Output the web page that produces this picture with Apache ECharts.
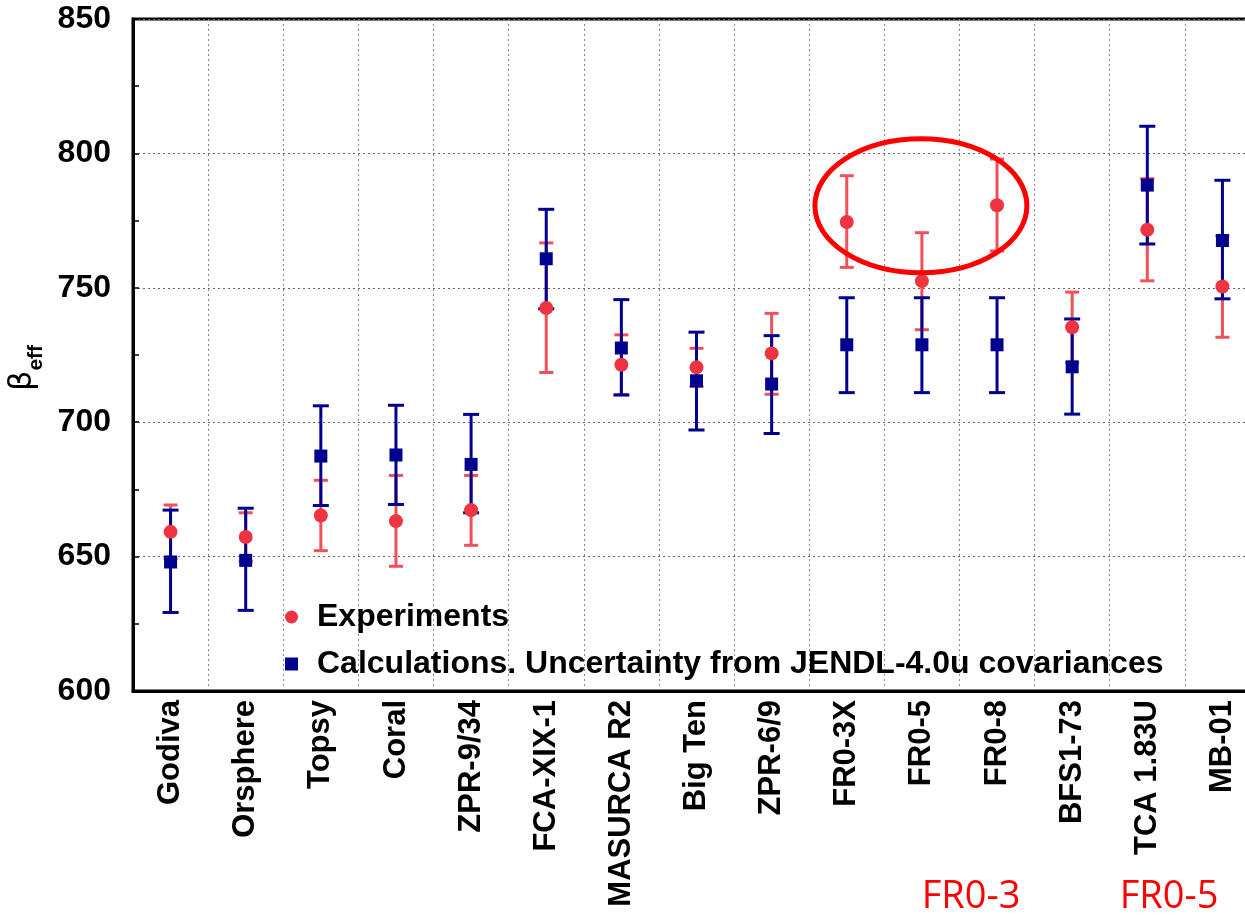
<!DOCTYPE html>
<html>
<head>
<meta charset="utf-8">
<script src="https://cdn.jsdelivr.net/npm/echarts@6/dist/echarts.min.js"></script>
<style>
  html, body { margin: 0; padding: 0; background: #fff; }
  #chart { width: 1245px; height: 919px; }
</style>
</head>
<body>
<div id="chart"></div>
<script>
const categories = ['Godiva', 'Orsphere', 'Topsy', 'Coral', 'ZPR-9/34', 'FCA-XIX-1', 'MASURCA R2', 'Big Ten', 'ZPR-6/9', 'FR0-3X', 'FR0-5', 'FR0-8', 'BFS1-73', 'TCA 1.83U', 'MB-01'];

const expValue = [659.2, 657.3, 665.3, 663.2, 667.3, 742.5, 721.4, 720.4, 725.6, 774.5, 752.5, 780.7, 735.3, 771.6, 750.5];
const expLow   = [649.2, 648.3, 652.2, 646.4, 654.2, 718.5, 710.3, 713.3, 710.4, 757.6, 734.4, 763.7, 722.2, 752.6, 731.6];
const expHigh  = [669.2, 666.3, 678.4, 680.2, 680.2, 766.7, 732.5, 727.5, 740.5, 791.7, 770.5, 797.9, 748.4, 790.6, 769.4];

const calcValue = [648.0, 648.6, 687.4, 687.8, 684.3, 760.8, 727.6, 715.4, 714.2, 728.8, 728.8, 728.8, 720.6, 788.2, 767.6];
const calcLow   = [629.2, 630.0, 669.0, 669.4, 666.3, 742.2, 710.1, 697.1, 695.8, 711.0, 711.0, 711.0, 703.0, 766.3, 745.9];
const calcHigh  = [667.3, 668.0, 706.1, 706.3, 702.9, 779.2, 745.6, 733.5, 732.2, 746.3, 746.3, 746.3, 738.4, 810.1, 790.0];

const yTicks = { min: 600, max: 850, step: 50 };
const annotations = [
  { text: 'FR0-3', x: 971, y: 897 },
  { text: 'FR0-5', x: 1169, y: 897 }
];

const RED = '#ee3341';
const RED_BAR = '#f0505a';
const BLUE = '#00008e';

function errRender(color, capHalf, lw) {
  return function (params, api) {
    const i = api.value(0);
    const lo = api.coord([i, api.value(1)]);
    const hi = api.coord([i, api.value(2)]);
    const style = { stroke: color, lineWidth: lw, fill: null };
    return {
      type: 'group',
      children: [
        { type: 'line', shape: { x1: lo[0], y1: lo[1], x2: hi[0], y2: hi[1] }, style: style },
        { type: 'line', shape: { x1: lo[0] - capHalf, y1: lo[1], x2: lo[0] + capHalf, y2: lo[1] }, style: style },
        { type: 'line', shape: { x1: hi[0] - capHalf, y1: hi[1], x2: hi[0] + capHalf, y2: hi[1] }, style: style }
      ]
    };
  };
}

const expErrData = categories.map((c, i) => [i, expLow[i], expHigh[i]]);
const calcErrData = categories.map((c, i) => [i, calcLow[i], calcHigh[i]]);

const chart = echarts.init(document.getElementById('chart'), null, { renderer: 'canvas' });

const FONT = '"Liberation Sans", Arial, sans-serif';

chart.setOption({
  animation: false,
  backgroundColor: '#fff',
  grid: {
    left: 133, right: -15, top: 19, bottom: 228,
    show: true, borderColor: '#000', borderWidth: 3, backgroundColor: 'transparent',
    containLabel: false,
    outerBoundsMode: 'none'
  },
  legend: {
    orient: 'vertical',
    left: 280, top: 595,
    itemWidth: 13, itemHeight: 13, itemGap: 13,
    data: [
      { name: 'Experiments', icon: 'circle' },
      { name: 'Calculations. Uncertainty from JENDL-4.0u covariances', icon: 'rect' }
    ],
    textStyle: { fontSize: 32, fontWeight: 'bold', color: '#000', fontFamily: FONT, padding: [0, 0, 0, 14], lineHeight: 34 }
  },
  xAxis: {
    type: 'category',
    data: categories,
    boundaryGap: true,
    axisLine: { lineStyle: { color: '#000', width: 3 } },
    axisTick: { show: false },
    axisLabel: { rotate: 90, interval: 0, fontSize: 31, fontWeight: 'bold', color: '#000', fontFamily: FONT, margin: 9 },
    splitLine: { show: true, interval: 0, lineStyle: { type: [2, 3], color: '#888', width: 1 } }
  },
  yAxis: {
    type: 'value',
    min: yTicks.min, max: yTicks.max, interval: yTicks.step,
    name: '{b|β}{s|eff}',
    nameLocation: 'middle',
    nameRotate: 90,
    nameGap: 86,
    nameTextStyle: {
      color: '#000',
      padding: [0, 26, 0, 0],
      rich: {
        b: { fontSize: 32, fontFamily: '"DejaVu Sans", sans-serif', color: '#000', padding: [0, 0, 8, 0] },
        s: { fontSize: 21, fontWeight: 'bold', fontFamily: FONT, color: '#000', verticalAlign: 'bottom' }
      }
    },
    axisLine: { show: true, lineStyle: { color: '#000', width: 3 } },
    axisTick: { show: true, inside: true, length: 6, lineStyle: { color: '#000', width: 1.5 } },
    minorTick: { show: true, splitNumber: 2, length: 6, lineStyle: { color: '#000', width: 1.5 } },
    axisLabel: { fontSize: 32, fontWeight: 'bold', color: '#000', fontFamily: FONT, margin: 22 },
    splitLine: { show: true, lineStyle: { type: [2, 3], color: '#666', width: 1 } }
  },
  series: [
    {
      type: 'custom', name: 'expErr', data: expErrData, renderItem: errRender(RED_BAR, 7, 3),
      encode: { x: 0, y: [1, 2] }, z: 2, silent: true
    },
    {
      type: 'custom', name: 'calcErr', data: calcErrData, renderItem: errRender(BLUE, 8, 3),
      encode: { x: 0, y: [1, 2] }, z: 3, silent: true
    },
    {
      type: 'scatter', name: 'Experiments', data: expValue, symbol: 'circle', symbolSize: 14,
      itemStyle: { color: RED, opacity: 1 }, z: 4
    },
    {
      type: 'scatter', name: 'Calculations. Uncertainty from JENDL-4.0u covariances', data: calcValue,
      symbol: 'rect', symbolSize: 13, itemStyle: { color: BLUE, opacity: 1 }, z: 5
    }
  ]
});

const c = chart.convertToPixel({ gridIndex: 0 }, ['FR0-5', 780.5]);
chart.setOption({
  graphic: [
    {
      type: 'ellipse', z: 100,
      shape: { cx: c[0] - 1, cy: c[1], rx: 106, ry: 67 },
      style: { fill: 'none', stroke: '#ff0000', lineWidth: 5 }
    }
  ].concat(annotations.map(a => ({
    type: 'text', z: 100, x: a.x, y: a.y,
    style: { text: a.text, fill: '#ff0000', fontSize: 38, fontFamily: '"Open Sans", sans-serif', align: 'center', verticalAlign: 'middle' }
  })))
});
</script>
</body>
</html>
